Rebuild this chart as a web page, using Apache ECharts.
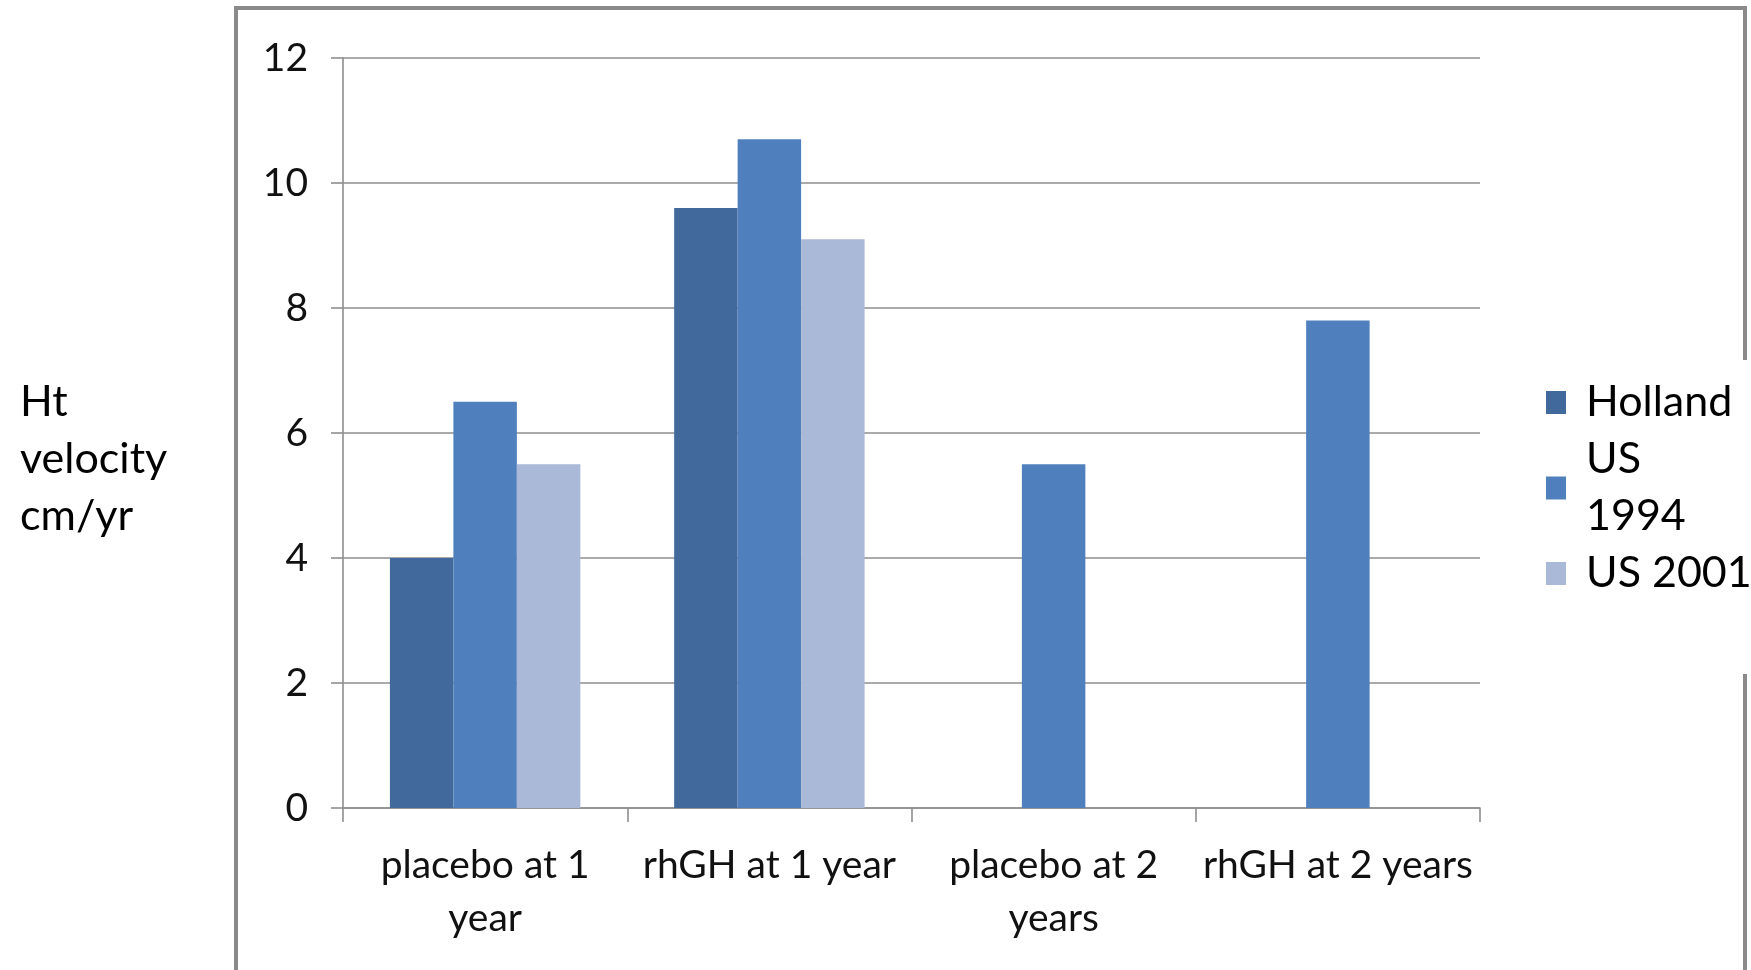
<!DOCTYPE html>
<html>
<head>
<meta charset="utf-8">
<script src="https://cdn.jsdelivr.net/npm/echarts@6/dist/echarts.min.js"></script>
<style>
  html, body { margin: 0; padding: 0; background: #fff; }
  #chart { width: 1751px; height: 970px; }
</style>
</head>
<body>
<div id="chart"></div>
<script>
// Height velocity (cm/yr) by treatment arm and study
const categories = ['placebo at 1\nyear', 'rhGH at 1 year', 'placebo at 2\nyears', 'rhGH at 2 years'];
const seriesNames = ['Holland', 'US 1994', 'US 2001'];
const holland = [4.0, 9.6, null, null];
const us1994 = [6.5, 10.7, 5.5, 7.8];
const us2001 = [5.5, 9.1, null, null];
const yTicks = { min: 0, max: 12, interval: 2 };
const yTitle = 'Ht\nvelocity\ncm/yr';

const colors = ['#41699c', '#4f80bd', '#aab9d7'];
const FONT = 'Lato, "Open Sans", sans-serif';
const GRID_GREY = '#8e8e8e';

const chart = echarts.init(document.getElementById('chart'), null, { renderer: 'canvas' });

const seriesData = [holland, us1994, us2001];

chart.setOption({
  backgroundColor: '#ffffff',
  animation: false,
  color: colors,
  textStyle: { fontFamily: FONT, color: '#111' },
  grid: {
    left: 343, right: 271, top: 58, bottom: 162,
    containLabel: false,
    outerBoundsMode: 'none'
  },
  graphic: [
    // slide frame around the chart area
    {
      type: 'polyline',
      z: 0,
      silent: true,
      shape: { points: [[236, 975], [236, 8], [1745, 8], [1745, 975]] },
      style: { stroke: '#8a8a8a', lineWidth: 4, fill: null }
    },
    // value-axis title, written to the left of the frame
    {
      type: 'text',
      z: 5,
      silent: true,
      x: 20,
      y: 374,
      style: {
        text: yTitle,
        fontFamily: FONT,
        fontSize: 43,
        lineHeight: 57,
        fill: '#000',
        align: 'left',
        verticalAlign: 'top'
      }
    }
  ],
  legend: {
    orient: 'vertical',
    left: 1530,
    top: 360,
    z: 10,
    backgroundColor: '#ffffff',
    padding: [14, 24, 72, 16],
    itemGap: 0,
    itemWidth: 20,
    itemHeight: 23,
    icon: 'rect',
    data: seriesNames,
    formatter: name => name === 'US 1994' ? 'US\n1994' : name,
    textStyle: {
      fontFamily: FONT,
      fontSize: 43,
      lineHeight: 57,
      color: '#000',
      padding: [0, 0, 0, 15]
    }
  },
  xAxis: {
    type: 'category',
    data: categories,
    axisLine: { show: true, lineStyle: { color: GRID_GREY, width: 1.6 } },
    axisTick: { show: true, length: 14, lineStyle: { color: GRID_GREY, width: 1.6 } },
    axisLabel: {
      interval: 0,
      margin: 31,
      fontFamily: FONT,
      fontSize: 39,
      lineHeight: 53,
      color: '#111'
    },
    splitLine: { show: false }
  },
  yAxis: {
    type: 'value',
    min: yTicks.min,
    max: yTicks.max,
    interval: yTicks.interval,
    axisLine: { show: true, lineStyle: { color: GRID_GREY, width: 1.6 } },
    axisTick: { show: true, length: 12, lineStyle: { color: GRID_GREY, width: 1.6 } },
    axisLabel: {
      margin: 35,
      fontFamily: FONT,
      fontSize: 39,
      color: '#111'
    },
    splitLine: { show: true, lineStyle: { color: GRID_GREY, width: 1.6 } }
  },
  series: seriesNames.map((name, i) => ({
    name: name,
    type: 'bar',
    data: seriesData[i],
    barGap: '0%',
    barCategoryGap: '33%',
    itemStyle: { color: colors[i] }
  }))
});
</script>
</body>
</html>
